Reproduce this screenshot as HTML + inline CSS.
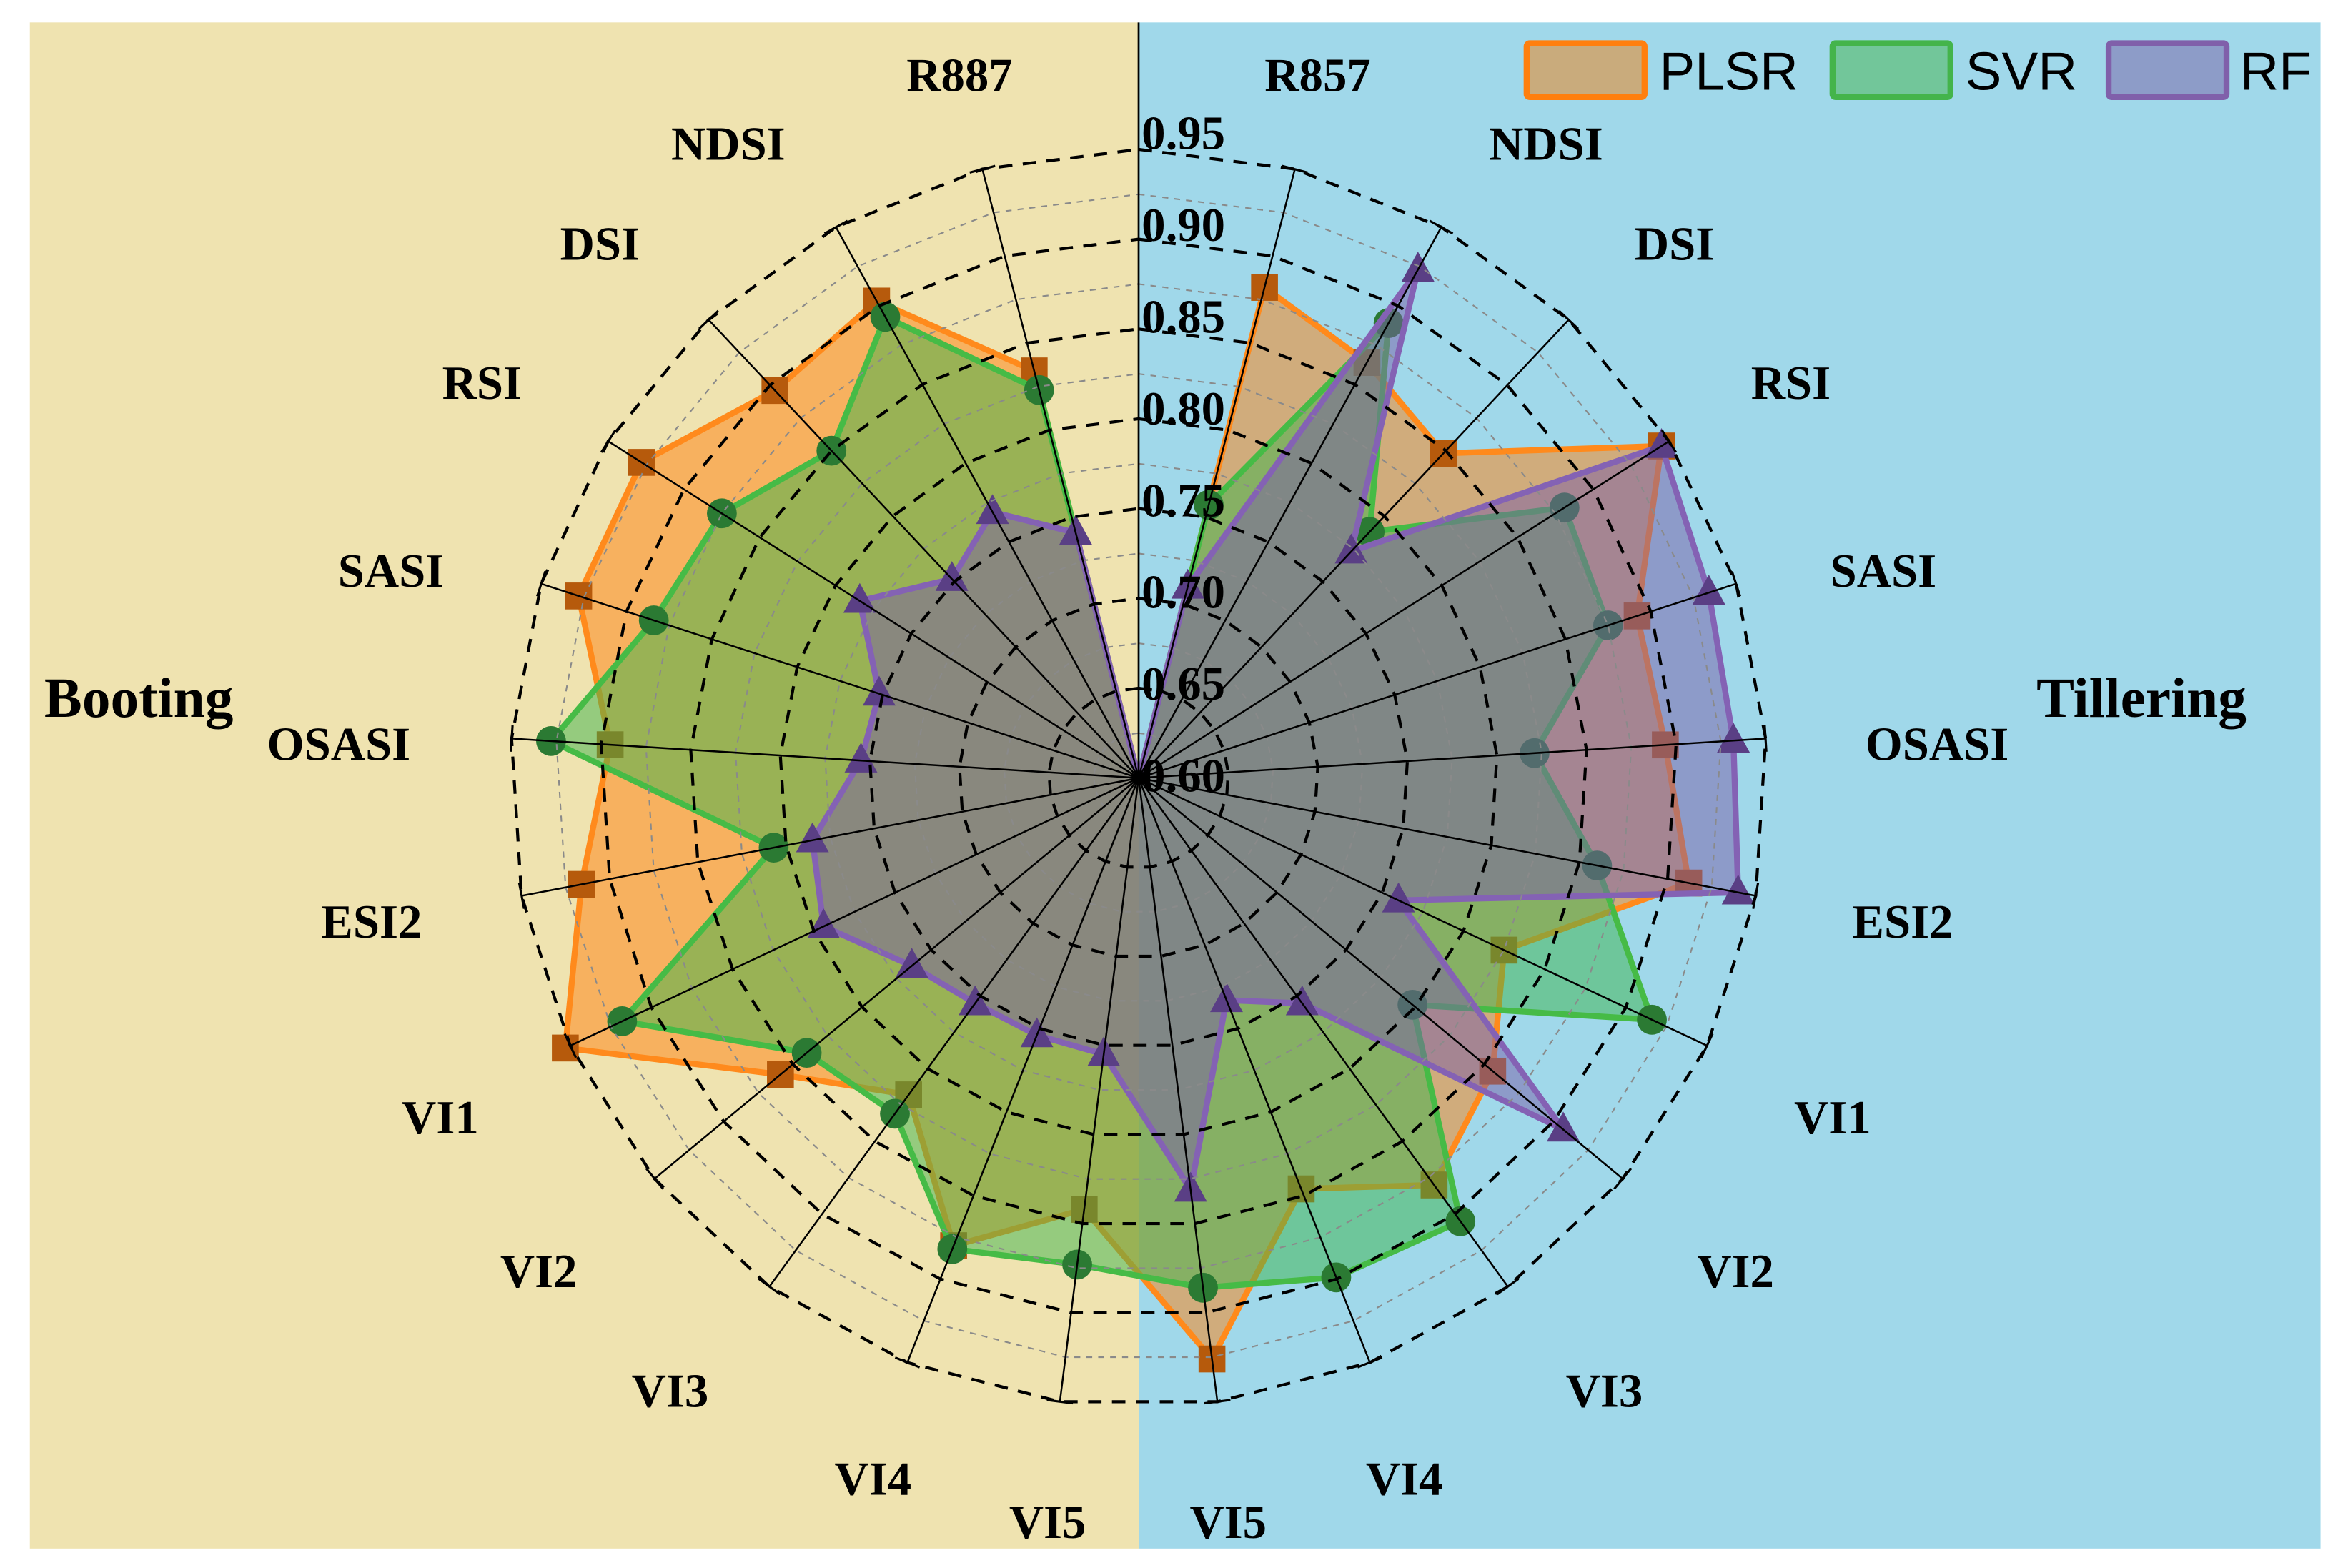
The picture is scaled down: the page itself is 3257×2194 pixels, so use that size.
<!DOCTYPE html>
<html><head><meta charset="utf-8"><style>
html,body{margin:0;padding:0;background:#fff;}
svg{display:block;}
.lab{font-family:"Liberation Serif",serif;font-weight:bold;font-size:32px;fill:#000;}
.tick{font-family:"Liberation Serif",serif;font-weight:bold;font-size:32px;fill:#000;}
.leg{font-family:"Liberation Sans",sans-serif;font-size:36px;fill:#000;}
</style></head><body>
<svg id="chart" width="3257" height="2194" viewBox="0 0 1560 1050" preserveAspectRatio="none" xmlns="http://www.w3.org/2000/svg">
<rect x="20" y="15" width="743" height="1022" fill="#efe3b0"/>
<rect x="763" y="15" width="792" height="1022" fill="#a0d8ea"/>
<g id="series"></g>
<g id="grid"></g>
<g id="markers"></g>
<g id="labels"></g>
<g>
<text class="lab" x="643" y="61" text-anchor="middle">R887</text>
<text class="lab" x="488" y="107" text-anchor="middle">NDSI</text>
<text class="lab" x="402" y="174" text-anchor="middle">DSI</text>
<text class="lab" x="323" y="267" text-anchor="middle">RSI</text>
<text class="lab" x="262" y="393" text-anchor="middle">SASI</text>
<text class="lab" x="227" y="509" text-anchor="middle">OSASI</text>
<text class="lab" x="249" y="628" text-anchor="middle">ESI2</text>
<text class="lab" x="295" y="759" text-anchor="middle">VI1</text>
<text class="lab" x="361" y="862" text-anchor="middle">VI2</text>
<text class="lab" x="449" y="942" text-anchor="middle">VI3</text>
<text class="lab" x="585" y="1001" text-anchor="middle">VI4</text>
<text class="lab" x="702" y="1030" text-anchor="middle">VI5</text>
<text class="lab" x="883" y="61" text-anchor="middle">R857</text>
<text class="lab" x="1036" y="107" text-anchor="middle">NDSI</text>
<text class="lab" x="1122" y="174" text-anchor="middle">DSI</text>
<text class="lab" x="1200" y="267" text-anchor="middle">RSI</text>
<text class="lab" x="1262" y="393" text-anchor="middle">SASI</text>
<text class="lab" x="1298" y="509" text-anchor="middle">OSASI</text>
<text class="lab" x="1275" y="628" text-anchor="middle">ESI2</text>
<text class="lab" x="1228" y="759" text-anchor="middle">VI1</text>
<text class="lab" x="1163" y="862" text-anchor="middle">VI2</text>
<text class="lab" x="1075" y="942" text-anchor="middle">VI3</text>
<text class="lab" x="941" y="1001" text-anchor="middle">VI4</text>
<text class="lab" x="823" y="1030" text-anchor="middle">VI5</text>
</g>
<text class="lab" x="93" y="480" text-anchor="middle" style="font-size:38px">Booting</text>
<text class="lab" x="1435" y="480" text-anchor="middle" style="font-size:38px">Tillering</text>
<g>
<g>
<rect x="1023" y="29" width="79" height="36" rx="2" fill="#c9ab7c" stroke="#ff7f0e" stroke-width="4"/>
<text class="leg" x="1112" y="60" textLength="93" lengthAdjust="spacingAndGlyphs">PLSR</text></g>
<g>
<rect x="1228" y="29" width="79" height="36" rx="2" fill="#72c69a" stroke="#44b44b" stroke-width="4"/>
<text class="leg" x="1317" y="60" textLength="75" lengthAdjust="spacingAndGlyphs">SVR</text></g>
<g>
<rect x="1413" y="29" width="79" height="36" rx="2" fill="#8d9cc8" stroke="#8060aa" stroke-width="4"/>
<text class="leg" x="1501" y="60" textLength="48" lengthAdjust="spacingAndGlyphs">RF</text></g>
</g>
</svg>
<script>
const tilleringCats = ["R857","NDSI","DSI","RSI","SASI","OSASI","ESI2","VI1","VI2","VI3","VI4","VI5"];
const bootingCats = ["R887","NDSI","DSI","RSI","SASI","OSASI","ESI2","VI1","VI2","VI3","VI4","VI5"];
const tickLabels = ["0.60","0.65","0.70","0.75","0.80","0.85","0.90","0.95"];
const tickValues = [0.60,0.65,0.70,0.75,0.80,0.85,0.90,0.95];
const plsrTillering = [0.882,0.864,0.848,0.945,0.892,0.894,0.912,0.825,0.856,0.880,0.846,0.926];
const svrTillering  = [0.757,0.889,0.788,0.881,0.875,0.821,0.860,0.916,0.798,0.905,0.899,0.886];
const rfTillering   = [0.710,0.923,0.773,0.945,0.934,0.932,0.940,0.760,0.907,0.755,0.733,0.831];
const plsrBooting = [0.834,0.903,0.896,0.928,0.928,0.895,0.916,0.953,0.859,0.818,0.880,0.842];
const svrBooting  = [0.823,0.893,0.850,0.875,0.884,0.928,0.807,0.918,0.840,0.831,0.882,0.873];
const rfBooting   = [0.741,0.769,0.752,0.784,0.752,0.755,0.785,0.794,0.764,0.755,0.754,0.755];

const NS="http://www.w3.org/2000/svg";
const CX=763, CY=521, RMAX=421, VMIN=0.60, VMAX=0.95, NSLOT=25;
function rScale(v){return (v-VMIN)/(VMAX-VMIN)*RMAX;}
function angDeg(side,i){return side==="R" ? 360/NSLOT*(i+1) : -360/NSLOT*(i+1);}
function pt(deg,r){const a=deg*Math.PI/180;return [CX+r*Math.sin(a), CY-r*Math.cos(a)];}
function mk(tag,attrs,parent){const e=document.createElementNS(NS,tag);for(const k in attrs)e.setAttribute(k,attrs[k]);parent.appendChild(e);return e;}

const grid=document.getElementById('grid');
for(let j=1;j<tickValues.length*2-1;j++){
  const v=VMIN+j*0.025;
  const r=rScale(v);
  const pts=[];
  for(let s=0;s<NSLOT;s++){pts.push(pt(s*360/NSLOT,r).join(','));}
  const major=(j%2===0);
  const ring=mk('polygon',{points:pts.join(' '),fill:'none',stroke:major?'#000':'#8a8a8a','stroke-width':major?2:1,'stroke-dasharray':major?'9,7':'4,4'},grid);
  
  
}
const spokeDefs=[];
tilleringCats.forEach((c,i)=>spokeDefs.push(angDeg("R",i)));
bootingCats.forEach((c,i)=>spokeDefs.push(angDeg("L",i)));
spokeDefs.forEach(d=>{
  const e=pt(d,RMAX);
  const l=mk('line',{x1:CX,y1:CY,x2:e[0],y2:e[1],stroke:'#000','stroke-width':1.2},grid);
  
  
  const a=pt(d-1.2,RMAX), b=pt(d+1.2,RMAX);
  const t=mk('line',{x1:a[0],y1:a[1],x2:b[0],y2:b[1],stroke:'#000','stroke-width':1.5},grid);
  
  
});
const ax=mk('line',{x1:CX,y1:15,x2:CX,y2:CY,stroke:'#000','stroke-width':1.3},grid);



const seriesLayer=document.getElementById('series');
const markerLayer=document.getElementById('markers');
const seriesDefs=[
  {name:'plsr',right:plsrTillering,left:plsrBooting,fill:'#ff7f0e',stroke:'#ff8a1c',mcol:'#b65a0c',shape:'square'},
  {name:'svr',right:svrTillering,left:svrBooting,fill:'#3cb44b',stroke:'#46bb46',mcol:'#2b7a33',shape:'circle'},
  {name:'rf',right:rfTillering,left:rfBooting,fill:'#7a5ea8',stroke:'#8462b4',mcol:'#5a3f85',shape:'triangle'}
];
seriesDefs.forEach(s=>{
  const g=mk('g',{},seriesLayer);
  
  
  const pts=[];
  s.right.forEach((v,i)=>pts.push(pt(angDeg("R",i),rScale(v))));
  for(let i=s.left.length-1;i>=0;i--){pts.push(pt(angDeg("L",i),rScale(s.left[i])));}
  const all=pts.concat([[CX,CY]]);
  const poly=mk('polygon',{points:all.map(p=>p.join(',')).join(' '),fill:s.fill,'fill-opacity':0.5,stroke:s.stroke,'stroke-width':4,'stroke-linejoin':'miter'},g);
  
  
  pts.forEach(p=>{
    let m;
    if(s.shape==='square'){m=mk('rect',{x:p[0]-9,y:p[1]-9,width:18,height:18,fill:s.mcol},g);}
    else if(s.shape==='circle'){m=mk('circle',{cx:p[0],cy:p[1],r:10,fill:s.mcol},g);}
    else {m=mk('polygon',{points:[[p[0],p[1]-12],[p[0]-11,p[1]+8],[p[0]+11,p[1]+8]].map(q=>q.join(',')).join(' '),fill:s.mcol},g);}
    
    
  });
});

const labels=document.getElementById('labels');
tickLabels.forEach((t,i)=>{
  const y=CY-rScale(tickValues[i]);
  const e=mk('text',{x:CX+2,y:y+9-i*1.3,class:'tick'},labels);
  e.textContent=t;
  
  
});
</script>
</body></html>
